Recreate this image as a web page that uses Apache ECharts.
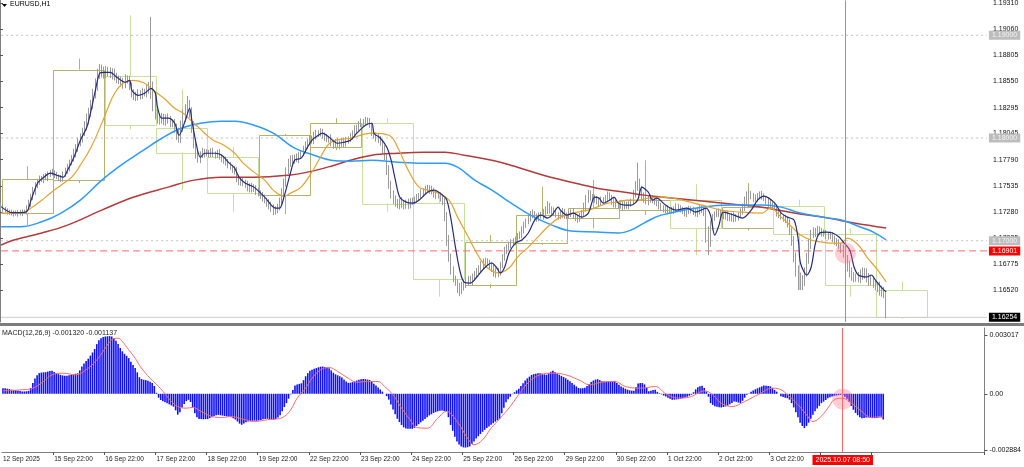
<!DOCTYPE html>
<html><head><meta charset="utf-8">
<script src="https://cdn.jsdelivr.net/npm/echarts@6/dist/echarts.min.js"></script>
<style>html,body{margin:0;padding:0;background:#fff}#c{width:1024px;height:467px}</style>
</head><body><div id="c"></div>
<script>
// ---------- data (prices in points = 1e-5 above 1.16000; MACD in 1e-6) ----------
const PRICE_BASE = 1.16;
const PT = 1e-5;
const MICRO = 1e-6;
const totalSlots = 461;
const xTickBars = [0,24,48,72,96,120,144,168,192,216,240,264,288,312,336,360,384,408];
const xTickLabels = ['12 Sep 2025','15 Sep 22:00','16 Sep 22:00','17 Sep 22:00','18 Sep 22:00','19 Sep 22:00','22 Sep 22:00','23 Sep 22:00','24 Sep 22:00','25 Sep 22:00','26 Sep 22:00','29 Sep 22:00','30 Sep 22:00','1 Oct 22:00','2 Oct 22:00','3 Oct 22:00','6 Oct 22:00','7 Oct 22:00'];
const priceTicks = [1.19310,1.19060,1.18805,1.18550,1.18295,1.18045,1.17790,1.17535,1.17280,1.17025,1.16775,1.16520];
const macdTicks = [0.003017, 0, -0.002884];
const macdTickLabels = ['0.003017','0.00','-0.002884'];
const roundLevels = [1.19000, 1.18000, 1.17000];
const alertLevel = 1.16901;
const bidPrice = 1.16254;
const cursorBar = 394;
const cursorLabel = '2025.10.07 08:50';
const cursorPrice = 1.16879;
const cursorMacd = -0.000267;
const macdTitle = 'MACD(12,26,9) -0.001320 -0.001137';

const firstOpenPts = 1340;
const closePts = [1330,
1310,1300,1285,1270,1280,1265,1275,1260,1270,1285,1280,1320,1360,1420,1480,1540,1570,1600,1590,1630,1615,1650,1670,1660,
1640,1625,1615,1600,1640,1680,1710,1760,1800,1850,1900,1950,2000,2060,2110,2180,2250,2320,2420,2510,2620,2680,2650,2630,
2660,2640,2620,2650,2600,2580,2560,2540,2530,2570,2580,2500,2440,2420,2400,2430,2420,2450,2440,2470,2500,2470,2380,2260,
2200,2180,2200,2170,2200,2180,2150,2140,2100,2040,2000,2100,2200,2270,2320,2260,2120,1960,1850,1800,1840,1870,1850,1860,
1840,1870,1850,1830,1860,1820,1800,1790,1760,1740,1720,1700,1680,1620,1600,1580,1570,1550,1530,1540,1510,1520,1490,1470,
1450,1420,1400,1380,1350,1320,1300,1310,1330,1380,1460,1560,1680,1760,1800,1780,1810,1790,1830,1850,1880,1930,1960,1990,
1970,2020,2050,2040,2060,2030,2010,1990,2000,1960,1940,1960,1930,1950,1970,1940,1980,1990,2010,2040,2080,2100,2130,2150,
2140,2160,2170,2130,2060,2030,2010,1990,1960,1900,1830,1700,1560,1460,1400,1370,1350,1380,1360,1340,1370,1350,1380,1390,
1400,1420,1440,1460,1480,1500,1490,1510,1480,1460,1440,1450,1420,1390,1250,1020,850,720,640,600,560,540,560,580,
600,620,610,650,680,700,730,760,780,800,790,760,740,700,680,690,760,840,900,930,960,990,980,1010,
1040,1060,1100,1150,1190,1220,1250,1260,1230,1220,1250,1240,1270,1300,1340,1310,1290,1270,1250,1240,1260,1280,1250,1240,
1260,1280,1250,1230,1220,1240,1260,1320,1400,1460,1430,1420,1400,1380,1370,1400,1390,1410,1440,1420,1390,1360,1350,1340,
1350,1330,1350,1340,1360,1380,1450,1520,1560,1500,1440,1400,1380,1410,1420,1400,1380,1360,1340,1320,1300,1310,1290,1300,
1290,1310,1330,1320,1300,1290,1270,1290,1310,1300,1280,1260,1290,1320,1300,1280,1100,1000,1150,1230,1260,1280,1270,1250,
1240,1260,1230,1220,1240,1210,1230,1250,1280,1320,1380,1420,1440,1430,1410,1420,1440,1450,1430,1410,1390,1370,1350,1340,
1330,1270,1250,1230,1220,1200,1170,1100,1000,850,720,640,600,620,700,820,960,1060,1090,1080,1100,1090,1080,1070,
1050,1040,1050,1020,1000,980,950,920,880,830,760,700,660,640,650,630,660,700,680,640,600,620,580,560,
540,500,520,480,254];
const upWickPts = [30,
25,20,15,18,22,15,20,25,30,20,18,25,40,35,45,30,25,35,30,20,30,25,20,30,
25,30,20,25,35,30,40,30,35,45,40,50,45,40,55,60,45,50,60,70,55,40,35,45,
40,35,50,30,25,35,30,40,45,50,30,25,40,35,30,45,35,40,30,50,45,680,80,60,
50,40,45,35,30,40,35,30,45,40,60,70,80,60,90,50,40,45,35,40,30,35,25,30,
25,30,35,20,25,30,20,25,30,35,25,20,30,40,25,20,30,25,35,20,25,30,20,25,
20,25,30,20,25,30,35,25,30,40,50,45,35,40,30,35,30,40,35,30,45,35,30,40,
35,40,30,25,35,30,25,30,20,35,25,30,40,25,30,35,30,25,40,35,45,30,35,40,
35,45,30,25,20,30,25,35,30,25,30,20,35,25,30,40,35,30,45,35,30,40,35,30,
30,35,25,40,30,35,45,30,25,35,30,25,20,30,25,30,35,25,30,20,25,30,40,35,
30,35,40,30,25,35,30,40,45,35,30,25,35,30,40,45,35,30,40,35,30,25,35,30,
35,30,40,35,25,30,40,45,30,35,25,30,40,35,45,30,25,35,30,25,35,40,30,25,
30,25,35,30,25,30,40,50,45,35,30,25,30,35,40,30,25,35,40,30,25,30,35,30,
25,30,35,30,25,30,45,60,200,45,35,30,25,35,30,25,30,25,35,30,25,30,35,25,
30,25,35,30,25,30,25,35,30,25,30,35,40,30,25,30,35,40,45,30,25,30,35,30,
25,30,35,25,30,35,30,25,35,40,50,60,55,45,35,30,25,30,35,30,25,30,35,25,
30,25,35,30,25,30,35,40,30,45,35,40,50,45,40,60,55,45,40,35,45,40,35,30,
35,30,40,35,30,25,35,30,40,35,30,45,40,35,30,45,60,40,35,50,45,40,35,30,
35,60,40,30,15];
const downWickPts = [30,
20,25,30,20,25,30,20,25,15,30,20,25,20,30,25,35,30,25,20,30,25,35,30,25,
30,25,35,30,25,20,30,35,25,30,40,35,30,45,40,35,50,45,40,35,50,45,60,50,
45,40,35,50,40,45,35,40,50,45,40,35,45,50,40,35,45,40,35,45,40,90,120,80,
60,50,40,45,50,40,45,35,50,60,45,50,40,45,35,60,70,60,50,40,45,35,40,30,
30,25,35,30,25,30,35,40,30,35,30,40,35,50,60,45,40,35,50,60,40,35,45,40,
45,40,35,50,45,40,50,45,40,35,30,40,35,30,40,35,30,25,35,30,25,30,35,30,
25,30,35,30,25,35,40,30,35,40,45,35,30,40,35,30,25,35,30,25,30,35,30,25,
30,25,35,30,40,35,45,40,35,50,45,60,55,50,45,40,35,45,40,35,30,40,35,30,
35,30,25,30,35,30,25,35,30,40,35,30,40,45,60,70,55,50,45,40,70,80,60,45,
40,35,30,45,35,40,30,35,40,45,35,40,45,50,40,35,30,25,35,30,25,35,30,25,
30,25,35,30,25,30,35,30,40,35,30,25,35,30,40,45,35,30,25,35,30,40,35,30,
25,30,35,40,45,35,30,25,35,30,40,35,30,25,35,30,25,30,35,30,40,35,30,25,
30,35,25,30,35,30,25,30,35,40,35,30,25,35,40,35,30,25,35,30,25,30,35,30,
25,30,35,30,25,30,35,40,30,35,30,25,30,35,30,40,120,140,60,45,35,30,40,35,
30,35,40,30,35,30,25,35,30,25,30,35,30,25,35,30,40,35,30,25,35,40,30,35,
30,35,30,25,35,30,40,45,50,60,70,120,80,80,60,50,45,40,35,45,40,35,40,30,
35,30,25,35,40,35,30,40,45,50,60,55,50,45,40,35,45,40,50,45,40,35,40,45,
40,35,45,40,10];

// daily (D1) candles drawn as boxes: open, close, high, low (points)
const dayOpenPts  = [1266,1590,2601,2102,1811,1444,1914,2147,1363, 576, 974,1217,1298,1395,1123,1340,1070, 520];
const dayClosePts = [1597,2666,2125,1859,1461,2027,2147,1363, 624, 990,1250,1315,1395,1123,1327,1070, 569, 254];
const dayHighPts  = [1726,2773,3194,2472,1914,2040,2193,2190,1444,1055,1525,1590,1784,1550,1561,1400,1120, 601];
const dayLowPts   = [1152,1561,2086,1493,1282,1259,1882,1282, 455, 537, 958,1120,1250, 860,1100, 520, 455, 240];

// moving averages: [bar, points]
const maFast = [[0,1332],[5,1274],[9,1274],[12,1284],[14,1395],[17,1560],[20,1619],[23,1658],[26,1638],[29,1619],[31,1687],[34,1813],[37,1978],[40,2105],[42,2270],[44,2465],[46,2630],[48,2640],[51,2640],[54,2591],[58,2543],[60,2562],[61,2465],[64,2416],[67,2436],[70,2484],[72,2436],[73,2300],[75,2193],[78,2193],[81,2144],[83,2027],[86,2173],[88,2290],[89,2173],[91,1949],[93,1813],[95,1852],[100,1852],[103,1833],[106,1765],[109,1707],[111,1619],[114,1560],[118,1522],[123,1425],[128,1318],[130,1318],[132,1425],[135,1658],[137,1784],[140,1804],[143,1911],[145,1978],[148,2027],[150,2047],[153,2008],[157,1949],[160,1959],[163,1978],[166,2047],[170,2125],[173,2144],[174,2047],[177,1998],[180,1911],[182,1784],[184,1590],[186,1425],[189,1376],[192,1366],[195,1395],[199,1473],[202,1493],[206,1444],[208,1395],[210,1201],[212,938],[214,715],[216,598],[219,588],[222,647],[226,744],[229,783],[231,744],[233,686],[235,744],[237,880],[240,977],[243,1007],[246,1075],[249,1201],[252,1249],[255,1220],[257,1249],[260,1327],[261,1298],[264,1249],[267,1269],[271,1230],[274,1269],[277,1425],[279,1415],[281,1366],[284,1395],[286,1425],[288,1366],[291,1347],[294,1347],[297,1395],[299,1522],[302,1473],[304,1395],[306,1415],[310,1347],[315,1298],[320,1318],[324,1279],[329,1318],[331,1249],[333,1055],[335,1152],[337,1279],[342,1249],[346,1220],[350,1298],[353,1395],[356,1434],[361,1366],[364,1269],[367,1230],[370,1201],[372,1007],[373,783],[376,666],[378,744],[380,977],[382,1075],[385,1084],[388,1075],[391,1036],[393,987],[396,909],[398,744],[400,666],[404,647],[406,666],[408,617],[411,540],[413,501]];
const maOrange = [[0,1269],[9,1269],[14,1318],[19,1395],[23,1463],[28,1541],[33,1619],[37,1736],[42,1911],[47,2145],[50,2300],[53,2436],[57,2533],[62,2562],[67,2533],[71,2465],[76,2387],[81,2290],[85,2241],[90,2144],[95,2047],[99,1978],[104,1930],[109,1852],[113,1755],[118,1668],[123,1590],[127,1493],[132,1434],[135,1463],[140,1522],[145,1668],[149,1813],[154,1959],[163,1998],[173,2047],[181,2027],[185,1911],[190,1687],[195,1522],[199,1493],[204,1463],[209,1395],[213,1230],[218,1036],[223,841],[227,734],[232,686],[237,734],[241,841],[246,938],[250,1026],[255,1133],[260,1220],[264,1249],[269,1279],[274,1298],[278,1327],[283,1366],[288,1376],[292,1395],[297,1395],[302,1415],[308,1425],[327,1347],[336,1298],[345,1279],[355,1269],[359,1318],[364,1230],[369,1133],[373,1055],[378,1007],[383,987],[387,977],[392,977],[395,1026],[400,958],[404,841],[409,715],[413,598]];
const maBlue = [[0,1136],[9,1136],[19,1184],[28,1269],[37,1395],[47,1590],[56,1736],[65,1862],[75,1998],[84,2095],[93,2145],[103,2164],[109,2164],[118,2125],[127,2047],[137,1901],[146,1833],[154,1784],[163,1775],[173,1784],[185,1765],[197,1755],[207,1755],[213,1716],[221,1590],[229,1493],[238,1366],[247,1249],[257,1152],[266,1094],[278,1084],[288,1075],[294,1104],[300,1172],[308,1249],[327,1327],[341,1347],[355,1347],[364,1327],[373,1269],[383,1230],[392,1201],[401,1133],[407,1084],[413,1007]];
const maRed = [[0,958],[6,1007],[19,1075],[31,1152],[47,1298],[62,1425],[78,1522],[90,1590],[103,1619],[118,1619],[134,1638],[143,1668],[154,1726],[163,1784],[173,1833],[185,1852],[197,1862],[207,1862],[216,1833],[229,1784],[241,1716],[253,1638],[266,1570],[278,1512],[291,1473],[300,1444],[308,1425],[327,1386],[345,1347],[355,1327],[370,1269],[386,1220],[398,1172],[413,1123]];

const macdHist = [290,
280,260,240,210,200,180,160,140,120,120,130,150,300,550,780,950,1060,1090,1100,1110,1140,1170,1180,1120,
1060,1010,970,940,920,930,950,970,1000,1030,1050,1200,1400,1560,1680,1800,1960,2120,2300,2550,2750,2850,2920,2940,
2950,2960,2940,2850,2720,2550,2350,2180,2050,1950,1830,1650,1480,1320,1100,850,760,720,700,670,620,560,400,50,
-200,-320,-380,-440,-490,-540,-600,-660,-850,-1070,-950,-700,-520,-380,-310,-420,-700,-1000,-1200,-1290,-1300,-1310,-1300,-1300,
-1250,-1200,-1140,-1100,-1080,-1100,-1120,-1140,-1160,-1180,-1210,-1250,-1320,-1420,-1530,-1590,-1520,-1460,-1420,-1400,-1390,-1380,-1385,-1370,
-1340,-1310,-1290,-1280,-1300,-1320,-1335,-1300,-1220,-1100,-900,-680,-480,-250,-30,200,420,480,510,540,700,900,1060,1180,
1240,1280,1320,1360,1390,1400,1380,1350,1310,1200,1080,1000,950,900,830,730,630,560,570,600,630,680,720,750,
760,750,730,710,620,520,420,320,220,110,0,-120,-300,-550,-800,-1050,-1280,-1450,-1600,-1720,-1780,-1790,-1800,-1795,
-1750,-1650,-1560,-1460,-1380,-1290,-1200,-1110,-1050,-990,-940,-900,-875,-860,-880,-900,-1200,-1600,-1900,-2200,-2450,-2600,-2700,-2750,
-2760,-2740,-2700,-2580,-2450,-2300,-2180,-2060,-1950,-1850,-1760,-1680,-1590,-1510,-1430,-1360,-1280,-1000,-720,-430,-280,-150,-20,80,
180,260,400,540,680,790,880,970,1010,1030,1050,1060,1030,1000,975,1050,1130,1180,1110,1040,980,920,860,800,
720,640,560,470,380,300,280,290,310,400,500,610,680,730,750,700,640,630,630,630,650,660,660,560,
460,380,320,260,210,180,160,150,330,530,550,550,480,300,130,150,190,210,100,30,-30,-90,-140,-200,
-260,-305,-300,-290,-277,-250,-220,-190,-150,-100,-50,80,230,330,390,410,300,120,-150,-480,-570,-640,-670,-690,
-700,-680,-650,-610,-540,-470,-400,-410,-450,-480,-360,-200,-50,20,100,170,230,280,330,380,420,410,395,380,
300,200,110,0,-120,-170,-200,-226,-300,-480,-700,-950,-1200,-1480,-1650,-1760,-1650,-1480,-1280,-1080,-900,-760,-620,-480,
-400,-320,-230,-180,-140,-105,-90,-70,-55,-60,-150,-260,-420,-620,-820,-980,-1100,-1200,-1260,-1240,-1220,-1216,-1230,-1250,
-1252,-1240,-1220,-1216,-1320];
const macdSignal = [[0,154],[9,205],[14,287],[19,631],[23,975],[28,1057],[34,975],[39,1231],[44,1744],[48,2339],[51,2770],[54,2852],[56,2683],[59,2257],[62,1826],[65,1313],[69,800],[73,374],[76,0],[79,-395],[82,-651],[86,-739],[89,-703],[93,-908],[98,-1165],[103,-1216],[107,-1165],[112,-1283],[118,-1421],[124,-1334],[129,-1283],[132,-1165],[135,-821],[138,-226],[142,287],[145,800],[149,1231],[153,1349],[157,1144],[162,800],[166,595],[171,631],[176,631],[179,374],[183,-51],[187,-739],[191,-1334],[194,-1729],[199,-1765],[204,-1252],[208,-908],[213,-1421],[218,-2278],[221,-2616],[225,-2360],[229,-1765],[233,-1283],[238,-651],[243,118],[247,631],[252,975],[258,1057],[264,975],[271,667],[275,462],[281,595],[287,631],[292,374],[299,287],[306,374],[311,0],[317,-226],[323,-139],[329,154],[333,-51],[337,-482],[342,-651],[348,-395],[355,0],[361,287],[364,256],[369,-139],[373,-564],[377,-1077],[380,-1421],[383,-1252],[387,-739],[390,-308],[394,-226],[398,-482],[403,-908],[407,-1216],[413,-1137]];

// ---------- build ----------
const px = p => +(PRICE_BASE + p * PT).toFixed(5);
const categories = Array.from({length: totalSlots}, (_, i) => String(i));
const candles = closePts.map((c, i) => {
  const o = i === 0 ? firstOpenPts : closePts[i - 1];
  const hi = Math.max(o, c) + upWickPts[i];
  const lo = Math.min(o, c) - downWickPts[i];
  return [px(o), px(c), px(lo), px(hi)];
});
const toLine = arr => arr.map(d => [d[0], px(d[1])]);
const dayBoxes = dayOpenPts.map((o, d) => [24 * d + 0.8, 24 * d + 24.8, px(o), px(dayClosePts[d]), px(dayHighPts[d]), px(dayLowPts[d])]);
const histData = macdHist.map(v => +(v * MICRO).toFixed(6));
const signalData = macdSignal.map(d => [d[0], +(d[1] * MICRO).toFixed(6)]);
const tickSet = new Set(xTickBars);
const tickText = {}; xTickBars.forEach((b, k) => tickText[b] = xTickLabels[k]);

const FONT = 'Liberation Sans';
const OLIVE = '#b3b36c', LGREEN = '#c6e29a';
const axisGray = '#808080';
const CURSOR_RED = '#ff6868';
const MAIN_MIN = 1.162085, MAIN_MAX = 1.193397;

const chart = echarts.init(document.getElementById('c'), null, {renderer: 'canvas'});
const lvlLabel = (bg, fg, val) => ({show: true, position: 'end', distance: 1, formatter: () => val.toFixed(5),
  fontSize: 7, fontFamily: FONT, color: fg, backgroundColor: bg, padding: [1, 3, 1, 3]});
const levelSeries = (name, val, color, type, bg, fg) => ({
  type: 'line', name: name, xAxisIndex: 0, yAxisIndex: 0, z: 1, color: color, silent: true,
  data: [[0, val], [totalSlots - 1, val]], showSymbol: false, symbol: 'none',
  lineStyle: {color: color, type: type, width: 1},
  endLabel: Object.assign({valueAnimation: false}, lvlLabel(bg, fg, val), {distance: 2})
});

chart.setOption({
  animation: false,
  backgroundColor: '#ffffff',
  textStyle: {fontFamily: FONT},
  grid: [
    {left: 0, right: 36, top: 0, height: 322, containLabel: false},
    {left: 0, right: 36, top: 328, height: 124, containLabel: false}
  ],
  xAxis: [
    {type: 'category', gridIndex: 0, data: categories, boundaryGap: true, show: false},
    {type: 'category', gridIndex: 1, data: categories, boundaryGap: true,
      axisLine: {show: true, onZero: false, lineStyle: {color: axisGray}},
      axisTick: {show: true, length: 3, interval: (i) => tickSet.has(i) && i > 0, lineStyle: {color: '#555'}},
      axisLabel: {show: true, interval: (i) => tickSet.has(i), formatter: (v, i) => tickText[i] || '',
        align: 'left', fontSize: 6.5, fontFamily: FONT, color: '#222', margin: 4, showMinLabel: true, showMaxLabel: false},
      splitLine: {show: false}},
    {type: 'value', gridIndex: 0, min: 0, max: totalSlots, show: false}
  ],
  yAxis: [
    {type: 'value', gridIndex: 0, position: 'right', min: MAIN_MIN, max: MAIN_MAX, scale: true,
      axisLine: {show: true, lineStyle: {color: axisGray}},
      axisTick: {show: true, length: 3, customValues: priceTicks, lineStyle: {color: '#555'}},
      axisLabel: {show: true, customValues: priceTicks, formatter: v => v.toFixed(5), fontSize: 7, fontFamily: FONT, color: '#111', margin: 5},
      splitLine: {show: false}},
    {type: 'value', gridIndex: 1, position: 'right', min: -0.002987, max: 0.003376,
      axisLine: {show: true, lineStyle: {color: axisGray}},
      axisTick: {show: true, length: 3, customValues: macdTicks, lineStyle: {color: '#555'}},
      axisLabel: {show: true, customValues: macdTicks, formatter: v => macdTickLabels[macdTicks.indexOf(v)] ?? String(v), fontSize: 7, fontFamily: FONT, color: '#111', margin: 5},
      splitLine: {show: false}}
  ],
  graphic: [
    {type: 'rect', left: 0, top: 323, shape: {width: 1024, height: 3}, style: {fill: '#7d7d7d'}, z: 100},
    {type: 'polygon', shape: {points: [[2, 4], [7, 4], [4.5, 7]]}, style: {fill: '#000'}, z: 100},
    {type: 'text', left: 10, top: 1, style: {text: 'EURUSD,H1', fontSize: 7, fontFamily: FONT, fill: '#000'}, z: 100},
    {type: 'text', left: 2, top: 330, style: {text: macdTitle, fontSize: 7, fontFamily: FONT, fill: '#222'}, z: 100}
  ],
  series: [
    {type: 'custom', name: 'D1', xAxisIndex: 2, yAxisIndex: 0, z: 1, clip: true, silent: true,
      data: dayBoxes,
      renderItem: (params, api) => {
        const x0 = api.value(0), x1 = api.value(1), o = api.value(2), c = api.value(3), h = api.value(4), l = api.value(5);
        const top = api.coord([x0, Math.max(o, c)]);
        const bot = api.coord([x1, Math.min(o, c)]);
        const hi = api.coord([(x0 + x1) / 2, h]);
        const lo = api.coord([(x0 + x1) / 2, l]);
        const col = c >= o ? OLIVE : LGREEN;
        const xm = Math.round(hi[0]) + 0.5;
        return {type: 'group', children: [
          {type: 'rect', shape: {x: Math.round(top[0]) + 0.5, y: Math.round(top[1]) + 0.5, width: Math.round(bot[0] - top[0]), height: Math.round(bot[1] - top[1])}, style: {fill: null, stroke: col, lineWidth: 1}},
          {type: 'line', shape: {x1: xm, y1: hi[1], x2: xm, y2: top[1]}, style: {stroke: col, lineWidth: 1}},
          {type: 'line', shape: {x1: xm, y1: bot[1], x2: xm, y2: lo[1]}, style: {stroke: col, lineWidth: 1}}
        ]};
      }},
    {type: 'candlestick', name: 'EURUSD', xAxisIndex: 0, yAxisIndex: 0, z: 2, data: candles, barWidth: 1.3,
      itemStyle: {color: '#dadada', color0: '#9a9a9a', borderColor: '#9a9a9a', borderColor0: '#9a9a9a', borderWidth: 1}},
    levelSeries('lvl1', roundLevels[0], '#c4c4c4', [2, 3], '#bdbdbd', '#f4f4f4'),
    levelSeries('lvl2', roundLevels[1], '#c4c4c4', [2, 3], '#bdbdbd', '#f4f4f4'),
    levelSeries('lvl3', roundLevels[2], '#c4c4c4', [2, 3], '#bdbdbd', '#f4f4f4'),
    levelSeries('alert', alertLevel, '#ff6a6a', [7, 4], '#ff0000', '#ffffff'),
    levelSeries('bid', bidPrice, '#cccccc', 'solid', '#000000', '#ffffff'),
    {type: 'custom', name: 'cursor', xAxisIndex: 0, yAxisIndex: 0, z: 6, silent: true, clip: false,
      data: [[cursorBar, MAIN_MIN, MAIN_MAX]],
      renderItem: (params, api) => {
        const a = api.coord([api.value(0), api.value(2)]);
        const b = api.coord([api.value(0), api.value(1)]);
        const x = Math.round(a[0]) + 0.5;
        return {type: 'line', shape: {x1: x, y1: a[1], x2: x, y2: b[1]}, style: {stroke: CURSOR_RED, lineWidth: 1, opacity: 1}};
      }},
    {type: 'line', name: 'MA200', xAxisIndex: 0, yAxisIndex: 0, z: 3, data: toLine(maRed), smooth: 0.4, showSymbol: false, lineStyle: {color: '#b23b3b', width: 1.5}},
    {type: 'line', name: 'MA100', xAxisIndex: 0, yAxisIndex: 0, z: 3, data: toLine(maBlue), smooth: 0.4, showSymbol: false, lineStyle: {color: '#2e9bff', width: 1.5}},
    {type: 'line', name: 'MA24', xAxisIndex: 0, yAxisIndex: 0, z: 3, data: toLine(maOrange), smooth: 0.4, showSymbol: false, lineStyle: {color: '#e4a22e', width: 1.2}},
    {type: 'line', name: 'MAfast', xAxisIndex: 0, yAxisIndex: 0, z: 4, data: toLine(maFast), smooth: 0.3, showSymbol: false, lineStyle: {color: '#232c80', width: 1.2}},
    {type: 'scatter', xAxisIndex: 0, yAxisIndex: 0, z: 5, data: [[cursorBar, cursorPrice]], symbolSize: 21, itemStyle: {color: 'rgba(255,110,130,0.42)'}, silent: true},
    {type: 'bar', name: 'MACD', xAxisIndex: 1, yAxisIndex: 1, z: 2, data: histData, barWidth: 1.6, itemStyle: {color: '#1010ff'},
      markLine: {symbol: 'none', silent: true, animation: false, lineStyle: {color: CURSOR_RED, type: 'solid', width: 1},
        data: [{xAxis: cursorBar, lineStyle: {color: CURSOR_RED, type: 'solid', width: 1},
          label: {show: true, position: 'start', distance: 3, formatter: cursorLabel, fontSize: 7, fontFamily: FONT, color: '#fff', backgroundColor: '#ff0000', padding: [2, 3, 1, 3]}}]}},
    {type: 'line', name: 'Signal', xAxisIndex: 1, yAxisIndex: 1, z: 3, data: signalData, smooth: 0.4, showSymbol: false, lineStyle: {color: '#ff6a6a', width: 1}},
    {type: 'scatter', xAxisIndex: 1, yAxisIndex: 1, z: 5, data: [[cursorBar, cursorMacd]], symbolSize: 21, itemStyle: {color: 'rgba(255,110,130,0.42)'}, silent: true}
  ]
});
</script></body></html>
